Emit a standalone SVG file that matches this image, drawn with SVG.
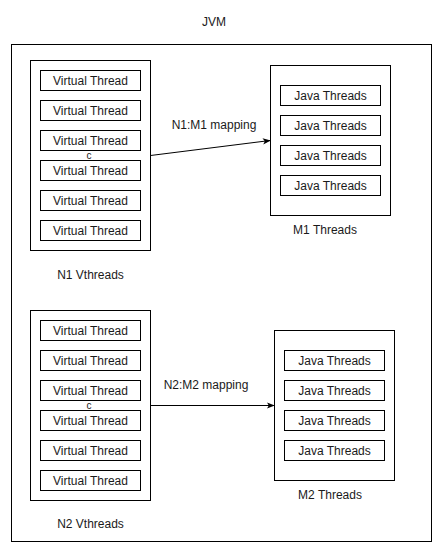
<svg xmlns="http://www.w3.org/2000/svg" width="441" height="551" viewBox="0 0 441 551">
<style>
rect{fill:#fff;stroke:#000;stroke-width:1}
text{font-family:"Liberation Sans",Arial,sans-serif;font-size:12px;fill:#1a1a1a;text-anchor:middle;dominant-baseline:central}
.c{font-size:10px}
.edge{stroke:#000;stroke-width:1;fill:none}
</style>
<defs>
<marker id="ah" viewBox="0 0 10 10" refX="9" refY="5" markerWidth="8" markerHeight="8" markerUnits="userSpaceOnUse" orient="auto">
<path d="M0,1 L10,5 L0,9 L2.5,5 Z" fill="#000"/>
</marker>
</defs>
<rect width="441" height="551" style="stroke:none"/>
<g id="jvm">
<rect x="11.5" y="44.5" width="420" height="497"/>
<text x="214" y="22">JVM</text>
</g>
<g id="n1">
<rect x="30.5" y="60.5" width="120" height="190"/>
<rect x="40.5" y="70.5" width="100" height="20"/><text x="90.5" y="80.5">Virtual Thread</text>
<rect x="40.5" y="100.5" width="100" height="20"/><text x="90.5" y="110.5">Virtual Thread</text>
<rect x="40.5" y="130.5" width="100" height="20"/><text x="90.5" y="140.5">Virtual Thread</text>
<rect x="40.5" y="160.5" width="100" height="20"/><text x="90.5" y="170.5">Virtual Thread</text>
<rect x="40.5" y="190.5" width="100" height="20"/><text x="90.5" y="200.5">Virtual Thread</text>
<rect x="40.5" y="220.5" width="100" height="20"/><text x="90.5" y="230.5">Virtual Thread</text>
<text class="c" x="89" y="155.5">c</text>
<text x="90.5" y="275">N1 Vthreads</text>
</g>
<g id="m1">
<rect x="270.5" y="65.5" width="120" height="150"/>
<rect x="280.5" y="85.5" width="100" height="20"/><text x="330.5" y="95.5">Java Threads</text>
<rect x="280.5" y="115.5" width="100" height="20"/><text x="330.5" y="125.5">Java Threads</text>
<rect x="280.5" y="145.5" width="100" height="20"/><text x="330.5" y="155.5">Java Threads</text>
<rect x="280.5" y="175.5" width="100" height="20"/><text x="330.5" y="185.5">Java Threads</text>
<text x="325" y="230">M1 Threads</text>
</g>
<g id="n2">
<rect x="30.5" y="310.5" width="120" height="190"/>
<rect x="40.5" y="320.5" width="100" height="20"/><text x="90.5" y="330.5">Virtual Thread</text>
<rect x="40.5" y="350.5" width="100" height="20"/><text x="90.5" y="360.5">Virtual Thread</text>
<rect x="40.5" y="380.5" width="100" height="20"/><text x="90.5" y="390.5">Virtual Thread</text>
<rect x="40.5" y="410.5" width="100" height="20"/><text x="90.5" y="420.5">Virtual Thread</text>
<rect x="40.5" y="440.5" width="100" height="20"/><text x="90.5" y="450.5">Virtual Thread</text>
<rect x="40.5" y="470.5" width="100" height="20"/><text x="90.5" y="480.5">Virtual Thread</text>
<text class="c" x="89" y="405.5">c</text>
<text x="90.5" y="524">N2 Vthreads</text>
</g>
<g id="m2">
<rect x="274.5" y="330.5" width="120" height="150"/>
<rect x="284.5" y="350.5" width="100" height="20"/><text x="334.5" y="360.5">Java Threads</text>
<rect x="284.5" y="380.5" width="100" height="20"/><text x="334.5" y="390.5">Java Threads</text>
<rect x="284.5" y="410.5" width="100" height="20"/><text x="334.5" y="420.5">Java Threads</text>
<rect x="284.5" y="440.5" width="100" height="20"/><text x="334.5" y="450.5">Java Threads</text>
<text x="330" y="495">M2 Threads</text>
</g>
<g id="connectors">
<path class="edge" d="M150.5,155.5 L270,140.5" marker-end="url(#ah)"/>
<text x="214" y="125">N1:M1 mapping</text>
<path class="edge" d="M150.5,405.5 L274,405.5" marker-end="url(#ah)"/>
<text x="206" y="385">N2:M2 mapping</text>
</g>
</svg>
